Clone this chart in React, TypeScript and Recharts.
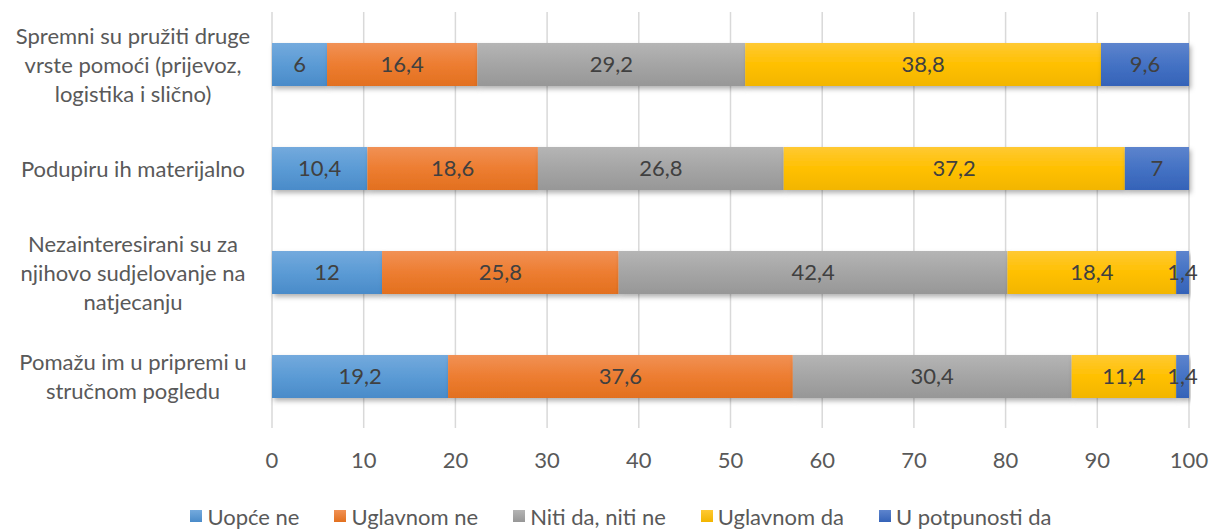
import React from "react";
import {
  BarChart,
  Bar,
  XAxis,
  YAxis,
  CartesianGrid,
  Legend,
  LabelList,
} from "recharts";

const categories = [
  "Spremni su pružiti druge\nvrste pomoći (prijevoz,\nlogistika i slično)",
  "Podupiru ih materijalno",
  "Nezainteresirani su za\nnjihovo sudjelovanje na\nnatjecanju",
  "Pomažu im u pripremi u\nstručnom pogledu",
];
const uopceNe = [6, 10.4, 12, 19.2];
const uglavnomNe = [16.4, 18.6, 25.8, 37.6];
const nitiDaNitiNe = [29.2, 26.8, 42.4, 30.4];
const uglavnomDa = [38.8, 37.2, 18.4, 11.4];
const uPotpunostiDa = [9.6, 7, 1.4, 1.4];

const seriesNames = ["Uopće ne", "Uglavnom ne", "Niti da, niti ne", "Uglavnom da", "U potpunosti da"];
const seriesKeys = ["s0", "s1", "s2", "s3", "s4"];
const seriesValues = [uopceNe, uglavnomNe, nitiDaNitiNe, uglavnomDa, uPotpunostiDa];
const xTicks = [0, 10, 20, 30, 40, 50, 60, 70, 80, 90, 100];

const baseColors = ["#5B9BD5", "#ED7D31", "#A5A5A5", "#FFC000", "#4472C4"];
const topColors = ["#74AADD", "#F19155", "#B5B5B5", "#FFC933", "#5D84CD"];
const bottomColors = ["#4A8BC9", "#E2701F", "#979797", "#F2B500", "#3563B8"];

const FONT = "Lato, 'Open Sans', sans-serif";

const data = categories.map((c, i) => {
  const row: any = { name: c };
  seriesKeys.forEach((k, j) => {
    row[k] = seriesValues[j][i];
  });
  return row;
});

const fmt = (v: any) => String(v).replace(".", ",");

const YTick = (props: any) => {
  const { x, y, payload } = props;
  const lines = String(payload.value).split("\n");
  const lh = 29;
  const start = y - ((lines.length - 1) * lh) / 2;
  return (
    <g>
      {lines.map((l, i) => (
        <text
          key={i}
          x={x - 139}
          y={start + i * lh}
          textAnchor="middle"
          dominantBaseline="central"
          fontFamily={FONT}
          fontSize={22}
          fill="#595959"
        >
          {l}
        </text>
      ))}
    </g>
  );
};

const LegendContent = () => (
  <div
    style={{
      width: "100%",
      height: 36,
      boxSizing: "border-box",
      paddingLeft: 53,
      paddingTop: 6,
      display: "flex",
      justifyContent: "center",
      alignItems: "center",
      fontFamily: FONT,
      fontSize: 22,
      color: "#595959",
    }}
  >
    {seriesNames.map((n, i) => (
      <div key={n} style={{ display: "flex", alignItems: "center", marginLeft: i === 0 ? 0 : 35 }}>
        <span
          style={{
            display: "inline-block",
            width: 12,
            height: 12,
            marginRight: 5,
            background: `linear-gradient(${topColors[i]}, ${bottomColors[i]})`,
          }}
        />
        <span>{n}</span>
      </div>
    ))}
  </div>
);

const makeShape = (i: number) => (p: any) => (
  <rect
    x={p.x}
    y={p.y}
    width={Math.max(0, p.width)}
    height={p.height}
    fill={`url(#grad${i})`}
    filter="url(#barShadow)"
  />
);

export default function App() {
  return (
    <div style={{ position: "absolute", left: 0, top: 0, width: 1210, height: 531, background: "#fff" }}>
      <BarChart
        width={1210}
        height={531}
        data={data}
        layout="vertical"
        margin={{ top: 12, right: 21, bottom: 0, left: 0 }}
        barSize={43}
      >
        <defs>
          {baseColors.map((c, i) => (
            <linearGradient key={i} id={`grad${i}`} x1="0" y1="0" x2="0" y2="1">
              <stop offset="0%" stopColor={topColors[i]} />
              <stop offset="50%" stopColor={c} />
              <stop offset="100%" stopColor={bottomColors[i]} />
            </linearGradient>
          ))}
          <filter id="barShadow" x="-10%" y="-20%" width="120%" height="160%">
            <feDropShadow dx="2" dy="3" stdDeviation="2.5" floodColor="#000" floodOpacity="0.3" />
          </filter>
        </defs>
        <CartesianGrid horizontal={false} stroke="#D9D9D9" strokeWidth={1.5} />
        <XAxis
          type="number"
          domain={[0, 100]}
          ticks={xTicks}
          axisLine={false}
          tickLine={false}
          tickSize={0}
          tickMargin={24}
          height={67}
          interval={0}
          tick={{ fontFamily: FONT, fontSize: 22, fill: "#595959" }}
        />
        <YAxis
          type="category"
          dataKey="name"
          width={272}
          axisLine={false}
          tickLine={false}
          tickSize={0}
          tickMargin={0}
          interval={0}
          tick={<YTick />}
        />
        <Legend verticalAlign="bottom" content={<LegendContent />} />
        {seriesKeys.map((k, i) => (
          <Bar
            key={k}
            dataKey={k}
            name={seriesNames[i]}
            stackId="a"
            fill={baseColors[i]}
            isAnimationActive={false}
            shape={makeShape(i)}
          >
            <LabelList
              dataKey={k}
              position="center"
              formatter={fmt}
              fill="#404040"
              fontFamily={FONT}
              fontSize={22}
            />
          </Bar>
        ))}
      </BarChart>
    </div>
  );
}
